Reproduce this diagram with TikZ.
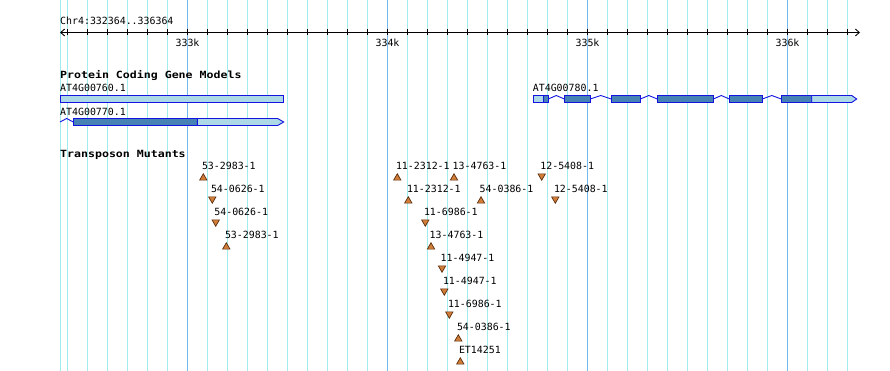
\documentclass[tikz,border=0pt]{standalone}
\usepackage{fontspec}
\setmonofont{DejaVu Sans Mono}
\usetikzlibrary{arrows.meta,shapes.geometric}
\definecolor{gridminor}{RGB}{160,236,236}
\definecolor{gridmajor}{RGB}{115,185,235}
\definecolor{utr}{RGB}{173,216,230}
\definecolor{cds}{RGB}{70,130,180}
\definecolor{geneline}{RGB}{20,20,225}
\definecolor{mutfill}{RGB}{210,125,55}
\definecolor{mutline}{RGB}{90,45,15}
% intron: from x1 to x2 on a bar with middle y3, peak y4
\newcommand{\genintron}[4]{\draw[intron] (#1,#3) -- ({(#1+#2)/2},#4) -- (#2,#3);}
\begin{document}
\begin{tikzpicture}[x=1pt,y=-1pt,
  lbl/.style={anchor=west,inner sep=0pt,font=\ttfamily\fontsize{9.9}{10}\selectfont},
  head/.style={anchor=west,inner sep=0pt,font=\ttfamily\bfseries\fontsize{9.9}{10}\selectfont},
  gridline/.style={line width=1.1pt},
  mut/.style={regular polygon,regular polygon sides=3,minimum size=8.5pt,inner sep=0pt,
    fill=mutfill,draw=mutline,line width=0.7pt},
  exon/.style={draw=geneline,line width=0.9pt},
  intron/.style={geneline,line width=0.9pt}]
\useasboundingbox (0,0) rectangle (890,371);
% grid
\draw[gridline,gridminor] (60.5,0) -- (60.5,371);
\foreach \k in {0,...,39}
  \draw[gridline,gridminor] ({67.5+20*\k},0) -- ({67.5+20*\k},371);
\foreach \m/\t in {187.5/333k,387.5/334k,587.5/335k,787.5/336k} {
  \draw[gridline,gridmajor] (\m,0) -- (\m,371);
  \node[lbl,anchor=center] (lab\t) at (\m,42.5) {\t};
}
% ruler
\node[lbl] (chrom) at (60,20.7) {Chr4:332364..336364};
\coordinate (axl) at (60,32.5);
\coordinate (axr) at (860,32.5);
\draw[line width=0.9pt,{Straight Barb[length=4pt,width=7pt]}-{Straight Barb[length=4pt,width=7pt]}] (axl) -- (axr);
\foreach \k in {0,...,39}
  \draw[line width=0.9pt] ({67.5+20*\k},29.5) -- ({67.5+20*\k},35);
% gene models
\node[head] (genes) at (60,76) {\scalebox{1.17}[1]{Protein Coding Gene Models}};
\node[lbl] (g760) at (60,88) {AT4G00760.1};
\draw[exon,fill=utr] (60,95) rectangle (283.7,102.5);
\node[lbl] (g770) at (60,111.5) {AT4G00770.1};
\genintron{60}{73.3}{122}{118.5}
\draw[exon,fill=cds] (73.3,118.5) rectangle (197.3,125.5);
\draw[exon,fill=utr] (197.3,118.5) -- (277.7,118.5) -- (283.7,122) -- (277.7,125.5) -- (197.3,125.5) -- cycle;
\node[lbl] (g780) at (532.7,88) {AT4G00780.1};
\draw[exon,fill=utr] (533.3,95.5) rectangle (543.3,102.5);
\draw[exon,fill=cds] (543.3,95.5) rectangle (548.3,102.5);
\foreach \a/\b in {548.3/564.3,590.3/611.3,640.3/657.3,713.3/729.3,762.3/781.3}
  \genintron{\a}{\b}{99}{95.5}
\foreach \a/\b in {564.3/590.3,611.3/640.3,657.3/713.3,729.3/762.3,781.3/811.7}
  \draw[exon,fill=cds] (\a,95.5) rectangle (\b,102.5);
\draw[exon,fill=utr] (811.7,95.5) -- (851.7,95.5) -- (856.7,99) -- (851.7,102.5) -- (811.7,102.5) -- cycle;
% transposon mutants
\node[head] (muts) at (60,154.5) {\scalebox{1.17}[1]{Transposon Mutants}};
\foreach \x/\r/\txt [count=\i] in {203.3/1/53-2983-1,226.3/4/53-2983-1,397.3/1/11-2312-1,
    454/1/13-4763-1,408.3/2/11-2312-1,481/2/54-0386-1,431/4/13-4763-1,
    458.3/8/54-0386-1,460.3/9/ET14251} {
  \node[mut] (up\i) at (\x,{178+23*(\r-1)}) {};
  \node[lbl] (uplab\i) at ({\x-1.5},{166+23*(\r-1)}) {\txt};
}
\foreach \x/\r/\txt [count=\i] in {212.3/2/54-0626-1,215.7/3/54-0626-1,541.7/1/12-5408-1,
    555.3/2/12-5408-1,425.3/3/11-6986-1,442/5/11-4947-1,444.3/6/11-4947-1,
    449.3/7/11-6986-1} {
  \node[mut,shape border rotate=180] (dn\i) at (\x,{176+23*(\r-1)}) {};
  \node[lbl] (dnlab\i) at ({\x-1.5},{166+23*(\r-1)}) {\txt};
}
\end{tikzpicture}
\end{document}
